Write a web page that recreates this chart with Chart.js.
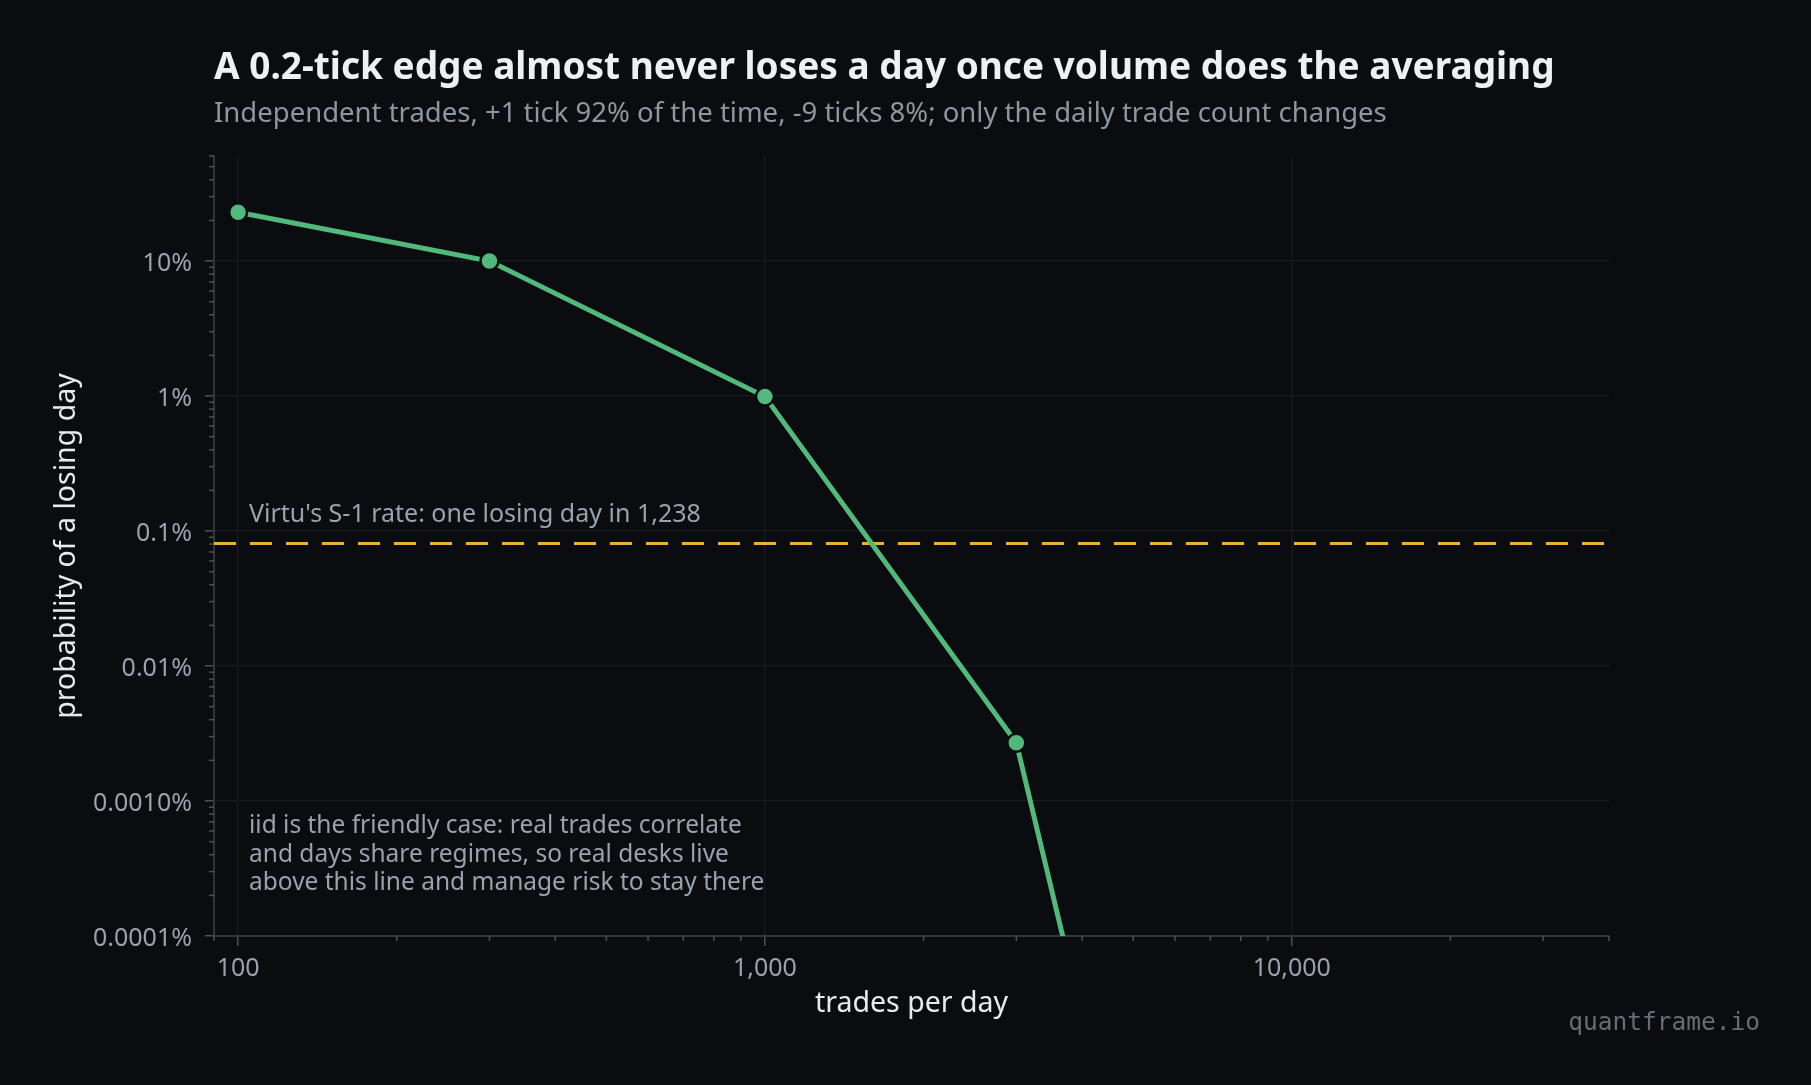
<!DOCTYPE html>
<html>
<head>
<meta charset="utf-8">
<script src="https://cdn.jsdelivr.net/npm/chart.js@4.4.1/dist/chart.umd.min.js"></script>
<style>
  html, body { margin: 0; padding: 0; background: #0a0c0f; }
  #wrap { width: 1811px; height: 1085px; }
</style>
</head>
<body>
<div id="wrap"><canvas id="lossChart" width="1811" height="1085"></canvas></div>
<script>
// data
const tradesPerDay = [100, 300, 1000, 3000, 10000, 30000];
const lossProbPct = [23, 10, 0.99, 0.0027, 8.4e-12, 1e-35];   // % chance of a losing day
const virtuPct = 0.0808;                                       // 1 / 1238

const xRange = [90, 40000];
const yRange = [0.0001, 60];
const xTickValues = [100, 1000, 10000];
const xTickLabels = ["100", "1,000", "10,000"];
const yTickValues = [0.0001, 0.001, 0.01, 0.1, 1, 10];
const yTickLabels = ["0.0001%", "0.0010%", "0.01%", "0.1%", "1%", "10%"];

const titleText = "A 0.2-tick edge almost never loses a day once volume does the averaging";
const subtitleText = "Independent trades, +1 tick 92% of the time, -9 ticks 8%; only the daily trade count changes";
const virtuNote = "Virtu's S-1 rate: one losing day in 1,238";
const iidNote = [
    "iid is the friendly case: real trades correlate",
    "and days share regimes, so real desks live",
    "above this line and manage risk to stay there"
];

const BG = "#0a0c0f";
const GREEN = "#52b97c";
const AMBER = "#ecb22e";
const FONT = "'Noto Sans', 'Open Sans', sans-serif";

// log ticks: 1..9 x 10^k inside the range
function logTicks(min, max) {
    let out = [];
    for (let k = Math.floor(Math.log10(min)); k <= Math.ceil(Math.log10(max)); k++) {
        for (let m = 1; m <= 9; m++) {
            let v = parseFloat((m * Math.pow(10, k)).toPrecision(6));
            if (v >= min * 0.999 && v <= max * 1.001) out.push(v);
        }
    }
    if (out[0] > min) out.unshift(min);
    return out;
}

function isMajor(list, v) {
    return list.some(t => Math.abs(Math.log10(t) - Math.log10(v)) < 1e-6);
}

// short ticks for the in-between values
const minorTicks = {
    id: "minorTicks",
    afterDraw(chart) {
        const ctx = chart.ctx;
        const xs = chart.scales.x, ys = chart.scales.y;
        ctx.save();
        ctx.strokeStyle = "#4a5059";
        ctx.lineWidth = 1.5;
        xs.ticks.forEach(t => {
            if (isMajor(xTickValues, t.value)) return;
            let px = xs.getPixelForValue(t.value);
            ctx.beginPath();
            ctx.moveTo(px, ys.bottom);
            ctx.lineTo(px, ys.bottom + 5);
            ctx.stroke();
        });
        ys.ticks.forEach(t => {
            if (isMajor(yTickValues, t.value)) return;
            let py = ys.getPixelForValue(t.value);
            ctx.beginPath();
            ctx.moveTo(xs.left, py);
            ctx.lineTo(xs.left - 5, py);
            ctx.stroke();
        });
        ctx.restore();
    }
};

// title, subtitle, notes, watermark
const textLayer = {
    id: "textLayer",
    afterDraw(chart) {
        const ctx = chart.ctx;
        const area = chart.chartArea;
        ctx.save();
        ctx.textBaseline = "alphabetic";
        ctx.textAlign = "left";

        ctx.fillStyle = "#eef0f2";
        ctx.font = "bold 37px " + FONT;
        ctx.fillText(titleText, area.left, 79);

        ctx.fillStyle = "#8e96a0";
        ctx.font = "27.5px " + FONT;
        ctx.fillText(subtitleText, area.left, 122);

        ctx.fillStyle = "#9aa2ad";
        ctx.font = "25px " + FONT;
        ctx.fillText(virtuNote, 249, 522);
        ctx.font = "24.5px " + FONT;
        iidNote.forEach((line, i) => ctx.fillText(line, 249, 833 + i * 28.7));

        ctx.fillStyle = "#676d76";
        ctx.font = "24.5px 'DejaVu Sans Mono', monospace";
        ctx.textAlign = "right";
        ctx.fillText("quantframe.io", 1760, 1030);
        ctx.restore();
    }
};

window.onload = function() {
    const ctx = document.getElementById("lossChart").getContext("2d");

    new Chart(ctx, {
        type: "line",
        data: {
            datasets: [
                {
                    label: "P(losing day)",
                    data: tradesPerDay.map((x, i) => ({ x: x, y: lossProbPct[i] })),
                    borderColor: GREEN,
                    backgroundColor: GREEN,
                    borderWidth: 5,
                    pointRadius: 9,
                    pointBorderWidth: 2.5,
                    pointBorderColor: BG,
                    pointBackgroundColor: GREEN,
                    tension: 0
                },
                {
                    label: "Virtu",
                    data: [{ x: xRange[0], y: virtuPct }, { x: xRange[1], y: virtuPct }],
                    borderColor: AMBER,
                    borderWidth: 3,
                    borderDash: [22, 14],
                    pointRadius: 0
                }
            ]
        },
        options: {
            responsive: false,
            animation: false,
            layout: { padding: { left: 50, top: 156, right: 202, bottom: 64 } },
            plugins: {
                legend: { display: false },
                tooltip: { enabled: false }
            },
            scales: {
                x: {
                    type: "logarithmic",
                    min: xRange[0],
                    max: xRange[1],
                    afterBuildTicks: s => { s.ticks = logTicks(xRange[0], xRange[1]).map(v => ({ value: v })); },
                    afterFit: s => { s.height = 85; },
                    border: { color: "#30353c", width: 2 },
                    grid: {
                        color: c => isMajor(xTickValues, c.tick.value) ? "#16191d" : "rgba(0,0,0,0)",
                        tickColor: c => isMajor(xTickValues, c.tick.value) ? "#4a5059" : "rgba(0,0,0,0)",
                        tickLength: 10,
                        lineWidth: 1.5
                    },
                    ticks: {
                        autoSkip: false,
                        maxRotation: 0,
                        padding: 8,
                        color: "#9aa2ad",
                        font: { family: FONT, size: 25 },
                        callback: function(v) {
                            let i = xTickValues.findIndex(t => Math.abs(Math.log10(t) - Math.log10(v)) < 1e-6);
                            return i >= 0 ? xTickLabels[i] : "";
                        }
                    },
                    title: {
                        display: true,
                        text: "trades per day",
                        color: "#e8eaec",
                        padding: 0,
                        font: { family: FONT, size: 28.5 }
                    }
                },
                y: {
                    type: "logarithmic",
                    min: yRange[0],
                    max: yRange[1],
                    afterBuildTicks: s => { s.ticks = logTicks(yRange[0], yRange[1]).map(v => ({ value: v })); },
                    afterFit: s => { s.width = 164; },
                    border: { color: "#30353c", width: 2 },
                    grid: {
                        color: c => isMajor(yTickValues, c.tick.value) ? "#16191d" : "rgba(0,0,0,0)",
                        tickColor: c => isMajor(yTickValues, c.tick.value) ? "#4a5059" : "rgba(0,0,0,0)",
                        tickLength: 9,
                        lineWidth: 1.5
                    },
                    ticks: {
                        autoSkip: false,
                        padding: 13,
                        labelOffset: 3,
                        color: "#9aa2ad",
                        font: { family: FONT, size: 25 },
                        callback: function(v) {
                            let i = yTickValues.findIndex(t => Math.abs(Math.log10(t) - Math.log10(v)) < 1e-6);
                            return i >= 0 ? yTickLabels[i] : "";
                        }
                    },
                    title: {
                        display: true,
                        text: "probability of a losing day",
                        color: "#e8eaec",
                        padding: 0,
                        font: { family: FONT, size: 28.5 }
                    }
                }
            }
        },
        plugins: [minorTicks, textLayer]
    });
};
</script>
</body>
</html>
